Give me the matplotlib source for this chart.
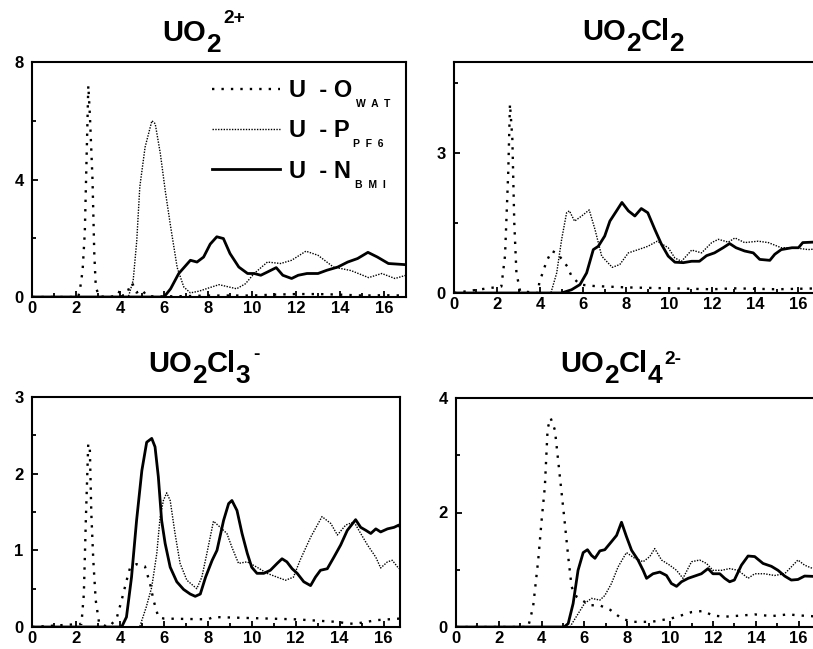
# plot.py
# Radial distribution functions around uranyl species (four panels)

import matplotlib
matplotlib.use("Agg")
import matplotlib.pyplot as plt
from matplotlib import ticker

# --- UO2 2+ ---------------------------------------------------------------
uo2_owat_r = [0, 2.1, 2.18, 2.3, 2.4, 2.56, 2.63, 2.75, 2.83, 2.9, 3.05, 3.5, 3.9, 4.0, 4.1,
              4.3, 4.46, 4.55, 4.75, 5.0, 5.2, 5.5, 6, 7, 8, 9, 10, 11, 12, 13, 14, 15, 16, 17]
uo2_owat_g = [0, 0, 0.25, 0.9, 2.2, 7.2, 6.2, 4.0, 1.5, 0.34, 0.02, 0, 0.05, 0.25, 0.05,
              0.08, 0.4, 0.48, 0.15, 0.25, 0.05, 0.02, 0.02, 0.03, 0.05, 0.05, 0.05, 0.08, 0.1,
              0.1, 0.08, 0.05, 0.06, 0.05]
uo2_ppf6_r = [0, 4.38, 4.6, 4.76, 4.9, 5.14, 5.45, 5.6, 5.83, 6.06, 6.3, 6.6, 6.9, 7.2, 7.6,
              8.0, 8.5, 8.9, 9.3, 9.7, 10.1, 10.7, 11.3, 11.8, 12.45, 13.0, 13.7, 14.5, 15.3,
              15.9, 16.5, 17.0]
uo2_ppf6_g = [0, 0, 0.57, 1.9, 3.75, 5.1, 6.0, 5.9, 4.9, 3.6, 2.4, 1.0, 0.34, 0.14, 0.2,
              0.3, 0.42, 0.35, 0.28, 0.45, 0.8, 1.19, 1.14, 1.25, 1.56, 1.42, 1.02, 0.9, 0.66,
              0.8, 0.63, 0.74]
uo2_nbmi_r = [0, 6.0, 6.3, 6.67, 7.0, 7.2, 7.5, 7.8, 8.1, 8.4, 8.7, 9.0, 9.4, 9.8, 10.1,
              10.4, 10.7, 11.1, 11.4, 11.8, 12.1, 12.5, 13.0, 13.4, 13.9, 14.35, 14.8, 15.27,
              15.7, 16.2, 17.0]
uo2_nbmi_g = [0, 0, 0.28, 0.8, 1.08, 1.25, 1.19, 1.36, 1.8, 2.05, 1.99, 1.48, 1.02, 0.8, 0.8,
              0.74, 0.85, 1.0, 0.74, 0.63, 0.74, 0.8, 0.8, 0.91, 1.02, 1.19, 1.31, 1.52,
              1.36, 1.14, 1.1]

# --- UO2Cl2 ---------------------------------------------------------------
cl2_owat_r = [0, 2.2, 2.37, 2.52, 2.6, 2.71, 2.8, 2.9, 3.07, 3.9, 3.96, 4.3, 4.54, 4.8, 5.26,
              5.46, 5.85, 6.5, 8, 10, 12, 13, 15, 17]
cl2_owat_g = [0, 0.14, 0.8, 2.6, 4.05, 3.3, 1.5, 0.43, 0.04, 0, 0.22, 0.68, 0.9, 0.85, 0.57,
              0.36, 0.18, 0.15, 0.12, 0.1, 0.08, 0.1, 0.08, 0.1]
cl2_ppf6_r = [0, 4.5, 4.77, 5.0, 5.23, 5.36, 5.6, 5.93, 6.28, 6.55, 6.86, 7.35, 7.7, 8.1,
              8.56, 9.0, 9.44, 9.95, 10.26, 10.57, 11.04, 11.5, 11.97, 12.28, 12.74, 13.05,
              13.5, 14.13, 14.6, 15.2, 15.8, 16.45, 17.0]
cl2_ppf6_g = [0, 0, 0.43, 1.15, 1.72, 1.76, 1.54, 1.65, 1.78, 1.36, 0.79, 0.55, 0.61, 0.86,
              0.93, 1.0, 1.11, 0.97, 0.75, 0.68, 0.92, 0.86, 1.08, 1.15, 1.09, 1.18,
              1.08, 1.11, 1.08, 0.97, 0.97, 0.93, 0.95]
cl2_nbmi_r = [0, 5.0, 5.46, 5.85, 6.16, 6.47, 6.7, 7.0, 7.24, 7.55, 7.8, 8.1, 8.4, 8.7, 9.0,
              9.33, 9.64, 9.95, 10.26, 10.65, 11.04, 11.4, 11.73, 12.1, 12.5, 12.8, 13.1,
              13.5, 13.9, 14.2, 14.67, 14.9, 15.2, 15.7, 16.0, 16.2, 16.67, 17.0]
cl2_nbmi_g = [0, 0, 0.07, 0.18, 0.43, 0.93, 1.0, 1.22, 1.54, 1.76, 1.94, 1.76, 1.65, 1.81,
              1.72, 1.36, 1.04, 0.79, 0.66, 0.65, 0.68, 0.68, 0.8, 0.86, 0.97, 1.06, 0.97,
              0.9, 0.86, 0.72, 0.7, 0.83, 0.93, 0.97, 0.97, 1.08, 1.09, 1.09]

# --- UO2Cl3 - -------------------------------------------------------------
cl3_owat_r = [0, 2.25, 2.36, 2.45, 2.56, 2.63, 2.7, 2.79, 2.9, 3.06, 3.5, 3.85, 4.08, 4.3,
              4.46, 4.76, 5.14, 5.37, 5.53, 5.75, 6.0, 8.0, 8.26, 12.0, 13.7, 14.66, 15.7,
              16.76]
cl3_owat_g = [0, 0.04, 0.43, 1.39, 2.39, 2.35, 1.48, 0.87, 0.35, 0.04, 0, 0.11, 0.35, 0.6,
              0.77, 0.82, 0.79, 0.57, 0.35, 0.13, 0.11, 0.1, 0.13, 0.1, 0.07, 0.04, 0.09,
              0.11]
cl3_ppf6_r = [0, 4.9, 5.2, 5.45, 5.68, 5.83, 5.98, 6.13, 6.29, 6.51, 6.74, 7.05, 7.5, 7.73,
              7.96, 8.26, 8.57, 8.87, 9.1, 9.4, 9.79, 10.24, 10.7, 11.16, 11.54, 11.9, 12.2,
              12.68, 13.2, 13.6, 13.9, 14.28, 14.66, 14.96, 15.27, 15.65, 15.87, 16.18,
              16.4, 16.7]
cl3_ppf6_g = [0, 0, 0.26, 0.52, 0.96, 1.43, 1.65, 1.75, 1.65, 1.22, 0.83, 0.61, 0.5, 0.65,
              0.96, 1.38, 1.3, 1.22, 1.04, 0.83, 0.85, 0.78, 0.7, 0.65, 0.61, 0.65, 0.87,
              1.17, 1.44, 1.35, 1.2, 1.33, 1.37, 1.22, 1.07, 0.91, 0.77, 0.85, 0.87, 0.76]
cl3_nbmi_r = [0, 4.08, 4.3, 4.53, 4.76, 5.0, 5.22, 5.45, 5.6, 5.75, 5.9, 6.06, 6.29, 6.59,
              6.9, 7.2, 7.43, 7.66, 7.9, 8.2, 8.42, 8.72, 8.95, 9.1, 9.33, 9.56, 9.8, 10.0,
              10.24, 10.55, 10.85, 11.16, 11.38, 11.6, 11.84, 12.07, 12.37, 12.68, 12.9,
              13.13, 13.44, 13.74, 14.05, 14.35, 14.73, 14.96, 15.2, 15.42, 15.65, 15.87,
              16.18, 16.48, 16.7, 16.8]
cl3_nbmi_g = [0, 0, 0.13, 0.65, 1.39, 2.04, 2.41, 2.46, 2.35, 1.96, 1.39, 1.09, 0.78, 0.59,
              0.49, 0.43, 0.4, 0.43, 0.65, 0.87, 1.0, 1.39, 1.61, 1.65, 1.52, 1.22, 0.96,
              0.78, 0.7, 0.7, 0.74, 0.83, 0.89, 0.85, 0.76, 0.7, 0.59, 0.54, 0.65, 0.74,
              0.76, 0.91, 1.07, 1.26, 1.4, 1.3, 1.26, 1.22, 1.28, 1.24, 1.28, 1.3, 1.33,
              1.28]

# --- UO2Cl4 2- ------------------------------------------------------------
cl4_owat_r = [0, 3.37, 3.6, 3.84, 4.0, 4.15, 4.28, 4.42, 4.62, 4.85, 5.05, 5.24, 5.4, 5.63,
              6.25, 6.7, 7.2, 7.73, 8.2, 9.13, 10.06, 10.5, 11.0, 11.54, 12.0, 12.55, 13.33,
              13.95, 14.73, 15.5, 16.13, 17.0]
cl4_owat_g = [0, 0, 0.35, 1.17, 1.87, 2.45, 3.47, 3.65, 3.44, 2.63, 1.93, 1.23, 0.7, 0.53,
              0.38, 0.38, 0.3, 0.15, 0.09, 0.09, 0.15, 0.2, 0.26, 0.28, 0.2, 0.18, 0.2, 0.22,
              0.19, 0.22, 0.2, 0.18]
cl4_ppf6_r = [0, 5.32, 5.7, 6.0, 6.33, 6.72, 6.95, 7.26, 7.57, 7.96, 8.35, 8.74, 9.05, 9.28,
              9.6, 9.98, 10.3, 10.6, 11.0, 11.38, 11.7, 12.0, 12.4, 12.78, 13.17, 13.48,
              13.64, 13.95, 14.4, 14.88, 15.35, 15.66, 15.97, 16.28, 17.0]
cl4_ppf6_g = [0, 0, 0.23, 0.41, 0.5, 0.47, 0.55, 0.76, 1.05, 1.3, 1.2, 1.14, 1.23, 1.37,
              1.17, 1.08, 0.99, 0.85, 1.14, 1.17, 1.11, 0.99, 0.99, 1.02, 0.99, 0.9, 0.85,
              0.93, 0.93, 0.9, 0.93, 1.05, 1.17, 1.08, 0.97]
cl4_nbmi_r = [0, 5.05, 5.24, 5.47, 5.7, 5.94, 6.14, 6.33, 6.49, 6.72, 6.95, 7.26, 7.5, 7.73,
              7.96, 8.2, 8.5, 8.74, 8.9, 9.2, 9.52, 9.83, 10.06, 10.3, 10.53, 10.84, 11.15,
              11.46, 11.77, 12.0, 12.32, 12.55, 12.78, 13.0, 13.33, 13.64, 13.95, 14.34,
              14.73, 15.04, 15.35, 15.66, 15.97, 16.28, 17.0]
cl4_nbmi_g = [0, 0, 0.06, 0.41, 0.99, 1.3, 1.35, 1.25, 1.2, 1.33, 1.35, 1.49, 1.6, 1.83,
              1.58, 1.34, 1.17, 0.99, 0.85, 0.93, 0.96, 0.9, 0.76, 0.71, 0.79, 0.85, 0.89,
              0.93, 1.02, 0.93, 0.93, 0.85, 0.79, 0.82, 1.08, 1.24, 1.23, 1.11, 1.06, 0.99,
              0.89, 0.82, 0.83, 0.89, 0.88]

# title pieces: (text, role) with role "" / "sub" / "sup"
title_uo2 = [("UO", ""), ("2", "sub"), ("2+", "sup")]
title_cl2 = [("UO", ""), ("2", "sub"), ("Cl", ""), ("2", "sub")]
title_cl3 = [("UO", ""), ("2", "sub"), ("Cl", ""), ("3", "sub"), ("-", "sup")]
title_cl4 = [("UO", ""), ("2", "sub"), ("Cl", ""), ("4", "sub"), ("2-", "sup")]

legend_main = ["U  - O", "U  - P", "U  - N"]
legend_sub = ["W  A  T", "P  F  6", "B  M  I"]

# line styles: sparse dots, dense dots, solid
STYLES = [
    dict(color="black", lw=1.7, linestyle=(0, (1, 3))),
    dict(color="black", lw=1.0, linestyle=(0, (1, 1))),
    dict(color="black", lw=2.0, linestyle="-"),
]

W, H = 813, 649
TITLE_SIZE = 21


def chem_title(ax, left_px, base_px, parts, sup_rise=14.0):
    """Draw a chemical formula piece by piece (subscripts nearly full size, as in the source)"""
    scale = {"": 1.0, "sub": 0.9, "sup": 0.66}
    rise = {"": 0.0, "sub": -8.0, "sup": sup_rise}
    y = 1 - base_px / H
    last = None
    for text, role in parts:
        kw = dict(fontsize=TITLE_SIZE * scale[role], fontweight="bold", va="baseline",
                  ha="left", annotation_clip=False)
        if last is None:
            last = ax.annotate(text, xy=(left_px / W, y), xycoords="figure fraction",
                               xytext=(0, rise[role]), textcoords="offset points", **kw)
        else:
            gap = 2.0 if role == "sup" else 0.0
            last = ax.annotate(text, xy=(1, y), xycoords=(last, "figure fraction"),
                               xytext=(gap, rise[role]), textcoords="offset points", **kw)


def draw_panel(ax, curves, ymax, ystep, xmax=17):
    lines = []
    for (r, g), style in zip(curves, STYLES):
        (line,) = ax.plot(r, g, **style)
        lines.append(line)

    ax.set(xlim=(0, xmax), ylim=(0, ymax))
    ax.xaxis.set_major_locator(ticker.MultipleLocator(2))
    ax.xaxis.set_minor_locator(ticker.MultipleLocator(1))
    ax.yaxis.set_major_locator(ticker.MultipleLocator(ystep))
    ax.yaxis.set_minor_locator(ticker.MultipleLocator(ystep / 2))
    ax.tick_params(which="both", direction="in", width=1.3, labelsize=12)
    ax.tick_params(which="major", length=4)
    ax.tick_params(which="minor", length=3)
    ax.tick_params(axis="x", pad=3)
    ax.tick_params(axis="y", pad=6)
    for lab in ax.get_xticklabels() + ax.get_yticklabels():
        lab.set_fontweight("bold")
    for sp in ax.spines.values():
        sp.set_linewidth(1.5)
    return lines


def main():
    plt.rc("font", family=["Liberation Sans", "DejaVu Sans"], weight="bold")

    fig = plt.figure(figsize=(8.13, 6.49), dpi=100)

    def px_axes(left, top, right, bottom):
        return fig.add_axes([left / W, 1 - bottom / H, (right - left) / W, (bottom - top) / H])

    ax_tl = px_axes(32, 62, 406, 297)
    ax_tr = px_axes(454, 62, 820, 293)
    ax_bl = px_axes(32, 397, 400, 627)
    ax_br = px_axes(456, 398, 820, 627)

    lines = draw_panel(ax_tl, [(uo2_owat_r, uo2_owat_g), (uo2_ppf6_r, uo2_ppf6_g),
                               (uo2_nbmi_r, uo2_nbmi_g)], ymax=8, ystep=4)
    draw_panel(ax_tr, [(cl2_owat_r, cl2_owat_g), (cl2_ppf6_r, cl2_ppf6_g),
                       (cl2_nbmi_r, cl2_nbmi_g)], ymax=4.95, ystep=3)
    draw_panel(ax_bl, [(cl3_owat_r, cl3_owat_g), (cl3_ppf6_r, cl3_ppf6_g),
                       (cl3_nbmi_r, cl3_nbmi_g)], ymax=3, ystep=1, xmax=16.75)
    draw_panel(ax_br, [(cl4_owat_r, cl4_owat_g), (cl4_ppf6_r, cl4_ppf6_g),
                       (cl4_nbmi_r, cl4_nbmi_g)], ymax=4, ystep=2)

    chem_title(ax_tl, 162, 41, title_uo2, sup_rise=13.0)
    chem_title(ax_tr, 582, 40, title_cl2)
    chem_title(ax_bl, 148, 372, title_cl3, sup_rise=9.0)
    chem_title(ax_br, 560, 372, title_cl4, sup_rise=5.5)

    leg = ax_tl.legend(lines, legend_main, loc="upper left", bbox_to_anchor=(0.481, 0.927),
                       frameon=False, prop=dict(size=17, weight="bold"), handlelength=2.9,
                       handletextpad=0.35, labelspacing=0.73, borderpad=0, borderaxespad=0)
    # subscripts next to the legend texts; drawn after the legend has been laid out
    for txt, sub in zip(leg.get_texts(), legend_sub):
        ax_tl.annotate(sub, xy=(1, 0), xycoords=txt, xytext=(3, -5),
                       textcoords="offset points", fontsize=7.5, fontweight="bold",
                       va="bottom", ha="left", annotation_clip=False, zorder=10)

    fig.savefig("out.png", dpi=100)


if __name__ == "__main__":
    main()
